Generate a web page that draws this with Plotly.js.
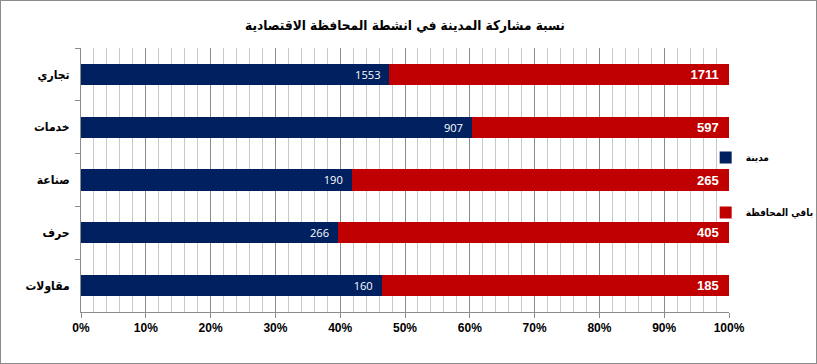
<!DOCTYPE html>
<html><head><meta charset="utf-8">
<script src="https://cdn.plot.ly/plotly-3.0.1.min.js"></script>
<style>
html,body{margin:0;padding:0;background:#fff;}
#wrap{position:relative;width:817px;height:364px;}
#chart{width:817px;height:364px;}
#frame{position:absolute;left:0;top:0;width:817px;height:364px;box-sizing:border-box;border:1px solid #8c8c8c;pointer-events:none;}
</style></head>
<body>
<div id="wrap"><div id="chart"></div><div id="frame"></div></div>
<script>
var categories = ['تجاري', 'خدمات', 'صناعة', 'حرف', 'مقاولات'];
var cityName = 'مدينة';
var restName = 'باقي المحافظة';
var cityValues = [1553, 907, 190, 266, 160];
var restValues = [1711, 597, 265, 405, 185];
var xTickVals = [0, 10, 20, 30, 40, 50, 60, 70, 80, 90, 100];
var xTickText = ['0%', '10%', '20%', '30%', '40%', '50%', '60%', '70%', '80%', '90%', '100%'];
var titleText = 'نسبة مشاركة المدينة في انشطة المحافظة الاقتصادية';

var arFont = '"DejaVu Sans Condensed", "DejaVu Sans", sans-serif';
var pad = '\u00a0\u00a0';

var traces = [
  {
    type: 'bar', orientation: 'h', name: cityName, legendgroup: 'a',
    y: categories, x: cityValues,
    text: cityValues.map(function(v){return v + pad;}), texttemplate: '%{text}',
    textposition: 'inside', insidetextanchor: 'end',
    textfont: {color: '#ffffff', size: 14, family: '"Open Sans", "Liberation Sans", sans-serif'},
    marker: {color: '#002060'}, hoverinfo: 'none'
  },
  {
    type: 'bar', orientation: 'h', name: restName, legendgroup: 'b',
    y: categories, x: restValues,
    text: restValues.map(function(v){return '<b>' + v + '</b>' + pad;}), texttemplate: '%{text}',
    textposition: 'inside', insidetextanchor: 'end',
    textfont: {color: '#ffffff', size: 13, family: '"Liberation Sans", Arial, sans-serif'},
    marker: {color: '#C00000'}, hoverinfo: 'none'
  }
];

var layout = {
  width: 817, height: 364,
  margin: {l: 81, r: 88, t: 48, b: 52, autoexpand: false},
  paper_bgcolor: '#ffffff', plot_bgcolor: '#ffffff',
  barmode: 'stack', barnorm: 'percent', bargap: 0.6,
  showlegend: true,
  title: {text: '<b>' + titleText + '</b>', x: 0.5, xref: 'paper', xanchor: 'center', y: 0.93, yanchor: 'middle',
    font: {family: arFont, size: 13.5, color: '#000'}},
  xaxis: {
    range: [0, 100], tickvals: xTickVals, ticktext: xTickText.map(function(t){return '<b>'+t+'</b>';}),
    showgrid: true, gridcolor: '#8c8c8c', gridwidth: 1,
    minor: {dtick: 2, showgrid: true, gridcolor: '#c8c8c8', gridwidth: 1, ticks: ''},
    ticks: 'outside', ticklen: 5, tickcolor: '#8c8c8c',
    showline: true, linecolor: '#8c8c8c', zeroline: false,
    tickfont: {family: '"Liberation Sans", Arial, sans-serif', size: 12, color: '#000'},
    fixedrange: true
  },
  yaxis: {
    autorange: 'reversed', type: 'category',
    ticks: 'outside', ticklen: 5, tickcolor: '#8c8c8c', tickson: 'boundaries',
    showline: true, linecolor: '#8c8c8c', showgrid: false, zeroline: false,
    ticklabelstandoff: 8,
    tickfont: {family: arFont, size: 12, color: '#000', weight: 'bold'},
    fixedrange: true
  },
  legend: {
    x: 0.964, xanchor: 'left', y: 0.481, yanchor: 'middle',
    traceorder: 'grouped', tracegroupgap: 36,
    font: {family: arFont, size: 10, color: '#000', weight: 'bold'},
    itemwidth: 30, bgcolor: 'rgba(0,0,0,0)'
  }
};

Plotly.newPlot('chart', traces, layout, {displayModeBar: false, staticPlot: true});
</script>
</body></html>
